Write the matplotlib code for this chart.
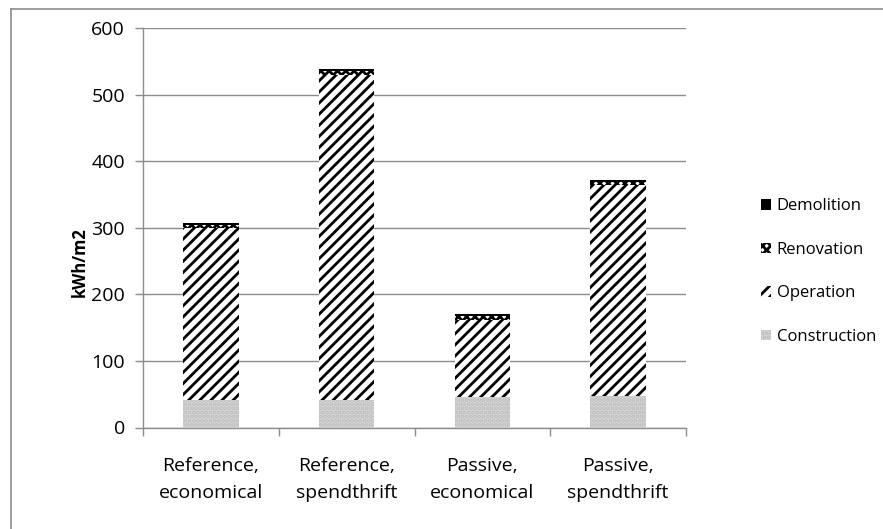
import matplotlib
matplotlib.use("Agg")
import matplotlib.pyplot as plt
from matplotlib.lines import Line2D
import numpy as np

# Life-cycle energy use per floor area, by building variant
categories = ["Reference,\neconomical", "Reference,\nspendthrift",
              "Passive,\neconomical", "Passive,\nspendthrift"]
construction = [41, 41, 46, 47]
operation = [258, 489, 116, 317]
renovation = [5, 5, 5, 5]
demolition = [3, 3, 3, 3]
yticks = [0, 100, 200, 300, 400, 500, 600]

plt.rcParams["font.family"] = ["Open Sans", "DejaVu Sans"]
plt.rcParams["hatch.linewidth"] = 2.0
FS = 14
FS_LEG = 12

fig = plt.figure(figsize=(8.83, 5.29), dpi=100)
ax = fig.add_axes([143 / 883, 1 - 427.5 / 529, (686 - 143) / 883, (427.5 - 28) / 529])

x = np.arange(len(categories))
w = 0.41
bottom = np.zeros(len(categories))

b1 = ax.bar(x, construction, w, bottom=bottom, color="#d6d6d6", edgecolor="#bdbdbd",
            hatch="....", linewidth=0, zorder=3)
bottom += construction
b2 = ax.bar(x, operation, w, bottom=bottom, color="white", edgecolor="black",
            hatch="///", linewidth=0, zorder=3)
bottom += operation
b3 = ax.bar(x, renovation, w, bottom=bottom, color="white", edgecolor="black",
            hatch="xxxx", linewidth=0, zorder=3)
bottom += renovation
b4 = ax.bar(x, demolition, w, bottom=bottom, color="black", linewidth=0, zorder=3)

ax.set_xlim(-0.5, len(categories) - 0.5)
ax.set_ylim(0, 600)
ax.set_yticks(yticks)
ax.set_yticklabels([str(v) for v in yticks], fontsize=FS)
ax.yaxis.grid(True, color="#8c8c8c", linewidth=1.0, zorder=0)
ax.set_axisbelow(True)

ax.set_xticks(x)
ax.set_xticklabels(categories, fontsize=FS, linespacing=1.7)
ax.tick_params(axis="x", length=0, pad=21)
ax.set_xticks(np.arange(len(categories) + 1) - 0.5, minor=True)
ax.tick_params(axis="x", which="minor", length=6, color="#8c8c8c", width=1)
ax.tick_params(axis="y", length=6, color="#8c8c8c", width=1, pad=7)

for s in ["top", "right"]:
    ax.spines[s].set_visible(False)
for s in ["left", "bottom"]:
    ax.spines[s].set_color("#8c8c8c")
    ax.spines[s].set_linewidth(1)

ax.set_ylabel("kWh/m2", fontsize=12, fontweight="bold")
ax.yaxis.set_label_coords(-0.1, 0.414)

leg = ax.legend([b4, b3, b2, b1], ["Demolition", "Renovation", "Operation", "Construction"],
                loc="center left", bbox_to_anchor=(1.138, 0.39), frameon=False,
                borderaxespad=0, borderpad=0,
                fontsize=FS_LEG, handlelength=0.6, handleheight=0.6, handletextpad=0.35,
                labelspacing=1.65)

# outer chart border
fig.add_artist(Line2D([11 / 883, 11 / 883], [0, 1 - 9 / 529], color="#8c8c8c", lw=1.2))
fig.add_artist(Line2D([11 / 883, 1], [1 - 9 / 529, 1 - 9 / 529], color="#8c8c8c", lw=1.2))

fig.savefig("out.png", dpi=100)
